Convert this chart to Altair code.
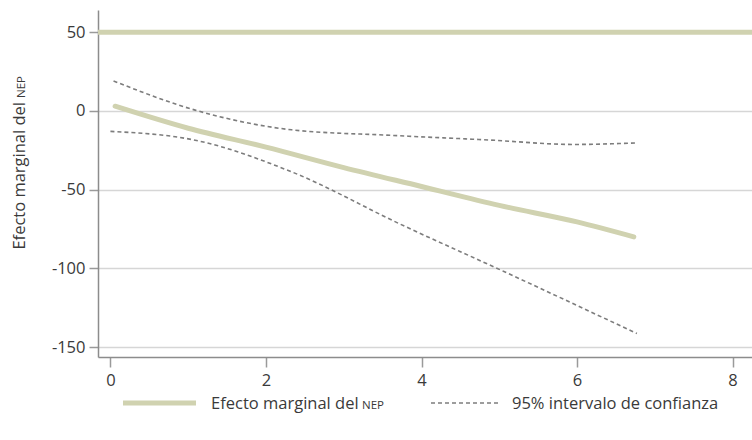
import altair as alt
import pandas as pd

# Marginal effect of NEP and its 95% confidence band
x_main = [0.06, 1.0, 2.0, 3.0, 4.0, 5.0, 6.0, 6.73]
y_main = [3, -11, -23, -36, -48, -60, -70.5, -80]

x_upper = [0.04, 1.09, 2.33, 3.6, 4.88, 5.96, 6.77]
y_upper = [19, 0.5, -12, -15.5, -18.5, -21.3, -20.3]

x_lower = [0.0, 1.09, 2.33, 3.73, 5.06, 6.77]
y_lower = [-13, -18.6, -38.7, -72, -102, -141.4]

ref_line = [50]
y_ticks = [-150, -100, -50, 0, 50]
x_ticks = [0, 2, 4, 6, 8]

title_main = "Efecto marginal del"
title_caps = "NEP"
legend_ci = "95% intervalo de confianza"

FONT = "Open Sans"
FS = 16.5
FS_CAPS = 11.5
TEXT = "#3a3a3a"
KHAKI = "#d0d2b0"
DASH = "#7d7d7d"

W, H = 654, 347

main_df = pd.DataFrame({"x": x_main, "y": y_main})
ci_df = pd.concat([
    pd.DataFrame({"x": x_upper, "y": y_upper, "band": "upper"}),
    pd.DataFrame({"x": x_lower, "y": y_lower, "band": "lower"}),
])

xs = alt.Scale(domain=[-0.16, 8.25], nice=False, zero=False)
ys = alt.Scale(domain=[-156.3, 64.1], nice=False, zero=False)

x_axis = alt.Axis(values=x_ticks, grid=False, title=None, tickSize=10,
                  labelPadding=5, labelExpr="'' + datum.value")
y_axis = alt.Axis(values=y_ticks, grid=True, title=None, tickSize=9,
                  labelPadding=4, labelExpr="'' + datum.value")

ref = alt.Chart(pd.DataFrame({"y": ref_line})).mark_rule(
    color=KHAKI, strokeWidth=5
).encode(y=alt.Y("y:Q", scale=ys, axis=y_axis))

main = alt.Chart(main_df).mark_line(
    color=KHAKI, strokeWidth=5, interpolate="monotone", strokeCap="round"
).encode(
    x=alt.X("x:Q", scale=xs, axis=x_axis),
    y=alt.Y("y:Q", scale=ys, axis=y_axis),
)

ci = alt.Chart(ci_df).mark_line(
    color=DASH, strokeWidth=1.6, strokeDash=[4, 3], interpolate="monotone"
).encode(
    x=alt.X("x:Q", scale=xs),
    y=alt.Y("y:Q", scale=ys),
    detail="band:N",
)

one = pd.DataFrame({"k": [0]})

# rotated y-axis title, with the acronym in small caps
ytitle_a = alt.Chart(one).mark_text(
    text=title_main, angle=270, align="right", baseline="alphabetic",
    font=FONT, fontSize=FS, color=TEXT
).encode(x=alt.value(-73), y=alt.value(92))
ytitle_b = alt.Chart(one).mark_text(
    text=title_caps, angle=270, align="left", baseline="alphabetic",
    font=FONT, fontSize=FS_CAPS, color=TEXT
).encode(x=alt.value(-73), y=alt.value(88))

# legend below the plot
leg_line1 = alt.Chart(one).mark_rule(color=KHAKI, strokeWidth=5).encode(
    x=alt.value(25), x2=alt.value(98), y=alt.value(393))
leg_text1a = alt.Chart(one).mark_text(
    text=title_main, align="left", baseline="alphabetic",
    font=FONT, fontSize=FS, color=TEXT
).encode(x=alt.value(113), y=alt.value(399))
leg_text1b = alt.Chart(one).mark_text(
    text=title_caps, align="left", baseline="alphabetic",
    font=FONT, fontSize=FS_CAPS, color=TEXT
).encode(x=alt.value(264), y=alt.value(399))
leg_line2 = alt.Chart(one).mark_rule(
    color=DASH, strokeWidth=1.6, strokeDash=[4, 3]
).encode(x=alt.value(333), x2=alt.value(401), y=alt.value(393))
leg_text2 = alt.Chart(one).mark_text(
    text=legend_ci, align="left", baseline="alphabetic",
    font=FONT, fontSize=FS, color=TEXT
).encode(x=alt.value(414), y=alt.value(399))

chart = alt.layer(
    ref, main, ci, ytitle_a, ytitle_b,
    leg_line1, leg_text1a, leg_text1b, leg_line2, leg_text2,
).properties(
    width=W, height=H,
    autosize=alt.AutoSizeParams(type="none"),
    padding={"left": 98, "top": 10, "right": 0, "bottom": 83},
).configure_view(stroke=None).configure_axis(
    labelFont=FONT, labelFontSize=FS, labelColor=TEXT,
    domainColor="#8c8c8c", domainWidth=1.5,
    tickColor="#9a9a9a", tickWidth=1.5,
    gridColor="#d6d6d6", gridWidth=1.5,
)

chart.save("out.html", embed_options={"renderer": "svg", "actions": False})
